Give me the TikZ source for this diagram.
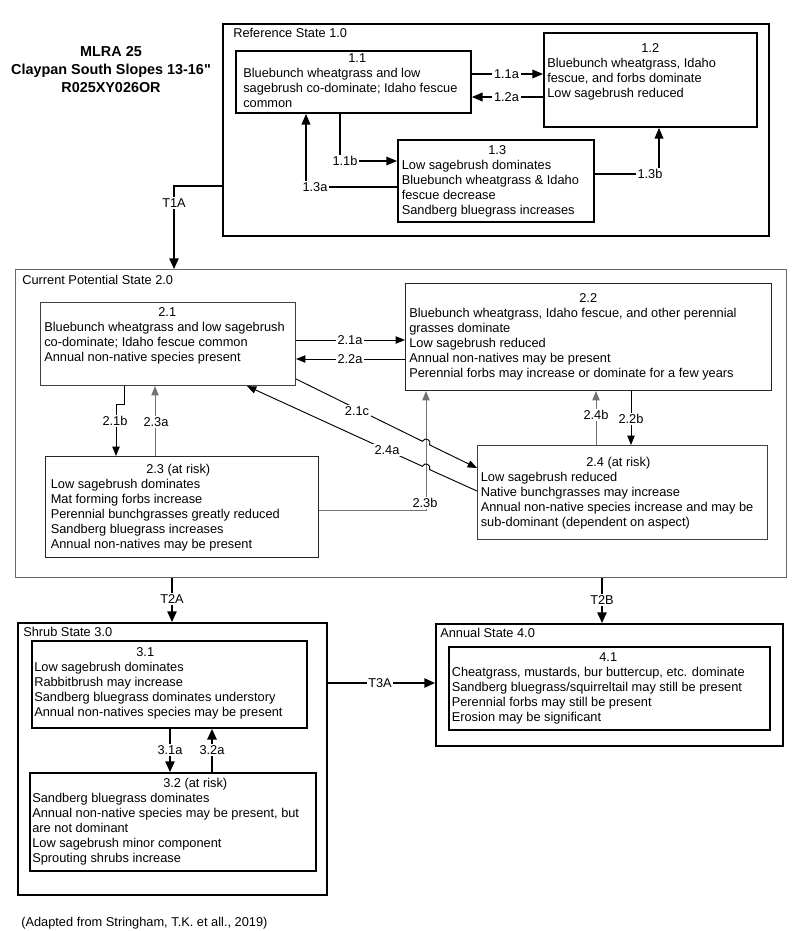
\documentclass[tikz,border=0pt]{standalone}
\usepackage{fontspec}
\setmainfont{Liberation Sans}[Ligatures=TeXOff]
\usetikzlibrary{arrows.meta,calc}
\newdimen\pxu \pxu=0.75pt
\begin{document}
\begin{tikzpicture}[x=0.75pt,y=-0.75pt,
  every node/.style={font=\fontsize{9.6}{11.25}\selectfont},
  heavy/.style={draw=black, line width=1.4pt},
  light/.style={draw=black!75, line width=0.8pt},
  boxn/.style={inner sep=0pt, anchor=north west},
  txt/.style={inner sep=0pt, anchor=north west, align=left},
  stlbl/.style={inner sep=0pt, anchor=west},
  lbl/.style={fill=white, inner sep=1.2pt},
  arr/.style={-{Triangle[length=8pt,width=6.5pt]}, line width=1pt},
  arrt/.style={-{Triangle[length=7pt,width=5.5pt]}, line width=0.7pt},
  arrg/.style={arrt, draw=black!55},
  tarr/.style={-{Triangle[length=8pt,width=7pt]}, line width=1.2pt},
]
\useasboundingbox (0,0) rectangle (800,931);

% title
\node[align=center, font=\bfseries\fontsize{10.8}{13.5}\selectfont] (title) at (111,70) {MLRA 25\\Claypan South Slopes 13-16"\\R025XY026OR};

% ---------- Reference State 1.0
\node[boxn, heavy, minimum width=546\pxu, minimum height=212\pxu] (ref) at (222,23) {};
\node[stlbl] (refl) at (233,33) {Reference State 1.0};
\node[boxn, heavy, minimum width=235\pxu, minimum height=62\pxu] (b11) at (235,50) {};
\node[txt] (t11) at (243,53.5) {\makebox[228\pxu]{1.1}\\Bluebunch wheatgrass and low\\sagebrush co-dominate; Idaho fescue\\common};
\node[boxn, heavy, minimum width=213\pxu, minimum height=94\pxu] (b12) at (543,32) {};
\node[txt] (t12) at (547,43.5) {\makebox[206\pxu]{1.2}\\Bluebunch wheatgrass, Idaho\\fescue, and forbs dominate\\Low sagebrush reduced};
\node[boxn, heavy, minimum width=196\pxu, minimum height=82\pxu] (b13) at (397,139) {};
\node[txt] (t13) at (401.5,145.5) {\makebox[191\pxu]{1.3}\\Low sagebrush dominates\\Bluebunch wheatgrass \& Idaho\\fescue decrease\\Sandberg bluegrass increases};

% ---------- Current Potential State 2.0
\node[boxn, light, draw=black!60, minimum width=771\pxu, minimum height=308\pxu] (cps) at (15,269) {};
\node[stlbl] (cpsl) at (22,280) {Current Potential State 2.0};
\node[boxn, light, minimum width=255\pxu, minimum height=83\pxu] (b21) at (40,302) {};
\node[txt] (t21) at (44,307.5) {\makebox[246\pxu]{2.1}\\Bluebunch wheatgrass and low sagebrush\\co-dominate; Idaho fescue common\\Annual non-native species present};
\node[boxn, light, draw=black!85, minimum width=366\pxu, minimum height=107\pxu] (b22) at (405,283) {};
\node[txt] (t22) at (409,293.5) {\makebox[358\pxu]{2.2}\\Bluebunch wheatgrass, Idaho fescue, and other perennial\\grasses dominate\\Low sagebrush reduced\\Annual non-natives may be present\\Perennial forbs may increase or dominate for a few years};
\node[boxn, light, draw=black!85, minimum width=273\pxu, minimum height=101\pxu] (b23) at (45,456) {};
\node[txt] (t23) at (50.5,463.8) {\makebox[255\pxu]{2.3 (at risk)}\\Low sagebrush dominates\\Mat forming forbs increase\\Perennial bunchgrasses greatly reduced\\Sandberg bluegrass increases\\Annual non-natives may be present};
\node[boxn, light, minimum width=290\pxu, minimum height=94\pxu] (b24) at (477,445) {};
\node[txt] (t24) at (480.5,456.5) {\makebox[275\pxu]{2.4 (at risk)}\\Low sagebrush reduced\\Native bunchgrasses may increase\\Annual non-native species increase and may be\\sub-dominant (dependent on aspect)};

% ---------- Shrub State 3.0
\node[boxn, heavy, minimum width=309\pxu, minimum height=272\pxu] (shrub) at (17,622) {};
\node[stlbl] (shrubl) at (23,632) {Shrub State 3.0};
\node[boxn, heavy, minimum width=275\pxu, minimum height=87\pxu] (b31) at (31,640) {};
\node[txt] (t31) at (34,647.5) {\makebox[222\pxu]{3.1}\\Low sagebrush dominates\\Rabbitbrush may increase\\Sandberg bluegrass dominates understory\\Annual non-natives species may be present};
\node[boxn, heavy, minimum width=286\pxu, minimum height=98\pxu] (b32) at (29,772) {};
\node[txt] (t32) at (32,778.2) {\makebox[326\pxu]{3.2 (at risk)}\\Sandberg bluegrass dominates\\Annual non-native species may be present, but\\are not dominant\\Low sagebrush minor component\\Sprouting shrubs increase};

% ---------- Annual State 4.0
\node[boxn, heavy, minimum width=347\pxu, minimum height=122\pxu] (ann) at (435,623) {};
\node[stlbl] (annl) at (440,633) {Annual State 4.0};
\node[boxn, heavy, minimum width=321\pxu, minimum height=83\pxu] (b41) at (448,646) {};
\node[txt] (t41) at (451.5,652.2) {\makebox[313\pxu]{4.1}\\Cheatgrass, mustards, bur buttercup, etc. dominate\\Sandberg bluegrass/squirreltail may still be present\\Perennial forbs may still be present\\Erosion may be significant};

% footer
\node[stlbl] (foot) at (21,923) {(Adapted from Stringham, T.K. et all., 2019)};

% ---------- connectors state 1
\draw[arr] (b11.east |- 0,74) -- (b12.west |- 0,74);
\draw[arr] (b12.west |- 0,97) -- (b11.east |- 0,97);
\draw[arr] (b11.south -| 340,0) |- (b13.west |- 0,161);
\draw[arr] (b13.west |- 0,187) -| (b11.south -| 306,0);
\draw[arr] (b13.east |- 0,174) -| (b12.south -| 659,0);
\draw[tarr] (ref.west |- 0,186) -| (cps.north -| 174,0);

% ---------- connectors state 2
\draw[arrt] (b21.east |- 0,340) -- (b22.west |- 0,340);
\draw[arrt] (b22.west |- 0,359) -- (b21.east |- 0,359);
\draw[arrt] (b21.south -| 124,0) -- (124,404) -- (116,404) -- (b23.north -| 116,0);
\draw[arrg] (b23.north -| 155,0) -- (b21.south -| 155,0);
\draw[arrg] (b23.east |- 0,510) -| (b22.south -| 426,0);
\draw[arrt] (b21.east |- 0,379) -- (422.4,441.3) to[bend left=90, looseness=1.7] (429.6,444.9) -- (b24.west |- 0,468);
\draw[arrt] (b24.west |- 0,491) -- (429.6,469.6) to[bend right=90, looseness=1.7] (422.4,466.3) -- (b21.south -| 247,0);
\draw[arrg] (b24.north -| 596,0) -- (b22.south -| 596,0);
\draw[arrt] (b22.south -| 631,0) -- (b24.north -| 631,0);

% ---------- transitions
\draw[tarr] (cps.south -| 172,0) -- (shrub.north -| 172,0);
\draw[tarr] (cps.south -| 602,0) -- (ann.north -| 602,0);
\draw[tarr] (shrub.east |- 0,683) -- (ann.west |- 0,683);
\draw[tarr] (b31.south -| 170,0) -- (b32.north -| 170,0);
\draw[tarr] (b32.north -| 212,0) -- (b31.south -| 212,0);

% ---------- labels
\node[lbl] (l11a) at (506.5,74) {1.1a};
\node[lbl] (l12a) at (506.5,97) {1.2a};
\node[lbl] (l11b) at (345,161) {1.1b};
\node[lbl] (l13a) at (315,187) {1.3a};
\node[lbl] (l13b) at (650,174) {1.3b};
\node[lbl] (lt1a) at (174,203) {T1A};
\node[lbl] (l21a) at (350,340) {2.1a};
\node[lbl] (l22a) at (350,359) {2.2a};
\node[lbl] (l21b) at (115,421) {2.1b};
\node[lbl] (l23a) at (156,422) {2.3a};
\node[lbl] (l21c) at (357,411) {2.1c};
\node[lbl] (l24a) at (387,450) {2.4a};
\node[lbl] (l24b) at (596,415) {2.4b};
\node[lbl] (l22b) at (631,419) {2.2b};
\node[lbl] (l23b) at (425,503) {2.3b};
\node[lbl] (lt2a) at (172,599) {T2A};
\node[lbl] (lt2b) at (602,600) {T2B};
\node[lbl] (lt3a) at (380,683) {T3A};
\node[lbl] (l31a) at (170,750) {3.1a};
\node[lbl] (l32a) at (212,750) {3.2a};
\end{tikzpicture}
\end{document}
